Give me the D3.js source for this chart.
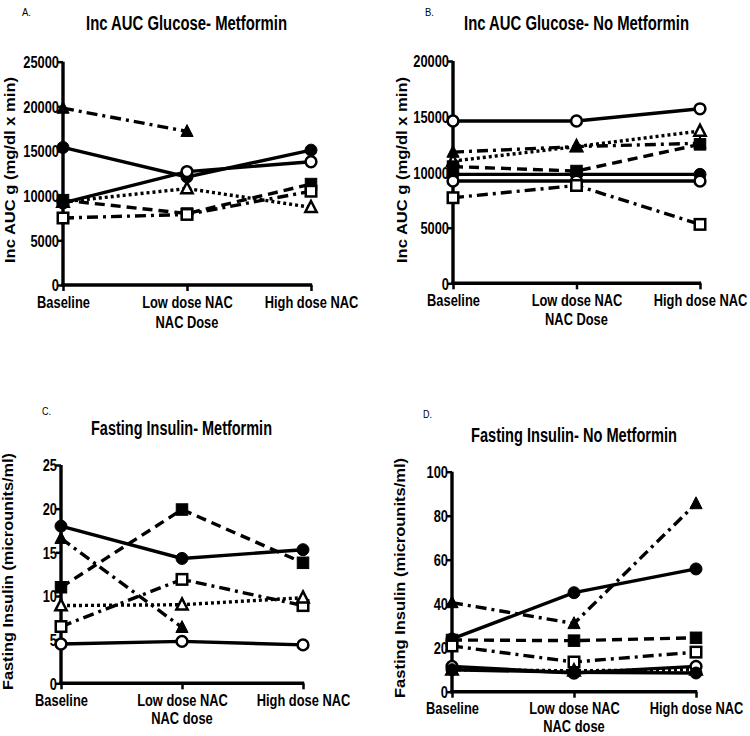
<!DOCTYPE html>
<html><head><meta charset="utf-8">
<script src="https://cdn.jsdelivr.net/npm/d3@7"></script>
<style>
body{margin:0;background:#fff;}
svg{display:block;}
</style>
</head><body>
<svg id="chart" width="750" height="736"></svg>
<script>
// ---- data ----
const categories = ["Baseline", "Low dose NAC", "High dose NAC"];

const ticksA = [0, 5000, 10000, 15000, 20000, 25000];
const ticksB = [0, 5000, 10000, 15000, 20000];
const ticksC = [0, 5, 10, 15, 20, 25];
const ticksD = [0, 20, 40, 60, 80, 100];

// line styles and markers for each series
const stylesA = ["dashdot", "solid", "solid", "dotted", "dashed", "dashdot"];
const markersA = ["triFilled", "circFilled", "circOpen", "triOpen", "sqFilled", "sqOpen"];
const valuesA = [
  [19800, 17200, null],
  [15400, 12100, 15100],
  [9200, 12700, 13800],
  [9300, 10800, 8700],
  [9500, 8000, 11300],
  [7500, 7900, 10500]
];

const stylesB = ["solid", "dotted", "dashdot", "dashed", "solid", "solid", "dashdot"];
const markersB = ["circOpen", "triOpen", "triFilled", "sqFilled", "circFilled", "circOpen", "sqOpen"];
const valuesB = [
  [14600, 14600, 15700],
  [11000, 12300, 13700],
  [11800, 12300, 12600],
  [10500, 10100, 12500],
  [9800, 9800, 9800],
  [9200, 9200, 9200],
  [7700, 8800, 5300]
];

const stylesC = ["solid", "dashed", "dashdot", "dashdot", "dotted", "solid"];
const markersC = ["circFilled", "sqFilled", "triFilled", "sqOpen", "triOpen", "circOpen"];
const valuesC = [
  [18.0, 14.3, 15.3],
  [11.0, 19.9, 13.8],
  [16.6, 6.4, null],
  [6.5, 11.9, 8.9],
  [8.9, 9.0, 9.8],
  [4.5, 4.8, 4.4]
];

const stylesD = ["dashdot", "solid", "dashed", "dashdot", "dotted", "solid", "solid"];
const markersD = ["triFilled", "circFilled", "sqFilled", "sqOpen", "triOpen", "circOpen", "circFilled"];
const valuesD = [
  [40.5, 31, 85.5],
  [24, 45, 55.8],
  [23.5, 23.2, 24.5],
  [20.8, 13.5, 18],
  [10, 9.5, 10],
  [11.5, 8.5, 11.5],
  [10, 8.8, 8.5]
];

// ---- drawing ----
const svg = d3.select("#chart");
const FONT = '"Liberation Sans",Arial,sans-serif';
const SX = 0.78; // horizontal squeeze imitating a narrow face

const dashes = {solid: null, dashed: "10,6", dashdot: "11,5,3,5", dotted: "3,3"};

function squeeze(sel) {
  sel.each(function () {
    const t = d3.select(this);
    const x = +t.attr("x") || 0;
    t.attr("transform", `translate(${x},0) scale(${SX},1) translate(${-x},0)`);
  });
}

function drawPanel(cfg) {
  const g = svg.append("g");
  const x = d3.scalePoint().domain(categories).range([cfg.x0, cfg.x1]).padding(0);
  const y = d3.scaleLinear().domain([0, cfg.max]).range([cfg.y0, cfg.yTop]);

  // letter
  g.append("text").attr("x", cfg.letterX).attr("y", cfg.letterY)
    .attr("font-family", FONT).attr("font-size", 11).attr("textLength", 9)
    .attr("lengthAdjust", "spacingAndGlyphs").text(cfg.letter);
  // title
  g.append("text").attr("x", cfg.titleX - cfg.titleW / 2).attr("y", cfg.titleY)
    .attr("font-family", FONT).attr("font-weight", "bold").attr("font-size", 19.5)
    .attr("textLength", cfg.titleW).attr("lengthAdjust", "spacingAndGlyphs").text(cfg.title);

  // y axis
  const ya = g.append("g").attr("transform", `translate(${cfg.x0},0)`)
    .call(d3.axisLeft(y).tickValues(cfg.ticks).tickSize(5).tickPadding(-1).tickFormat(d3.format("d")));
  ya.select(".domain").attr("stroke-width", 3.4).attr("d", `M0,${cfg.y0 + 1.5}V${cfg.yTop}`);
  ya.selectAll(".tick line").attr("stroke-width", 2.5);
  ya.selectAll(".tick text").attr("font-family", FONT).attr("font-weight", "bold")
    .attr("font-size", 16.5).attr("fill", "#000").attr("dy", "0.36em").call(squeeze);

  // x axis
  const xa = g.append("g").attr("transform", `translate(0,${cfg.y0})`)
    .call(d3.axisBottom(x).tickSize(6).tickPadding(5));
  xa.select(".domain").attr("stroke-width", 3.4).attr("d", `M${cfg.x0 - 1.7},0H${cfg.x1 + 1.2}`);
  xa.selectAll(".tick line").attr("stroke-width", 2.5);
  xa.selectAll(".tick text").attr("font-family", FONT).attr("font-weight", "bold")
    .attr("font-size", 16.5).attr("fill", "#000").call(squeeze);

  // x axis title
  g.append("text").attr("x", x(categories[1])).attr("y", cfg.y0 + cfg.xTitleDy).attr("text-anchor", "middle")
    .attr("font-family", FONT).attr("font-weight", "bold").attr("font-size", 16.5).call(squeeze)
    .text(cfg.xTitle);
  // y axis title
  g.append("text").attr("transform", `translate(${cfg.yTitleX},${cfg.yTitleY + cfg.yTitleW / 2}) rotate(-90)`)
    .attr("font-family", FONT).attr("font-weight", "bold")
    .attr("font-size", 14).attr("textLength", cfg.yTitleW).attr("lengthAdjust", "spacingAndGlyphs")
    .text(cfg.yTitle);

  const line = d3.line().defined(d => d.v != null).x(d => x(d.c)).y(d => y(d.v));

  cfg.values.forEach((vals, i) => {
    const pts = vals.map((v, j) => ({c: categories[j], v}));
    g.append("path").datum(pts).attr("d", line).attr("fill", "none").attr("stroke", "#000")
      .attr("stroke-width", 3.4).attr("stroke-dasharray", dashes[cfg.styles[i]]);
  });
  cfg.values.forEach((vals, i) => {
    const m = cfg.markers[i];
    vals.forEach((v, j) => {
      if (v == null) return;
      const cx = x(categories[j]), cy = y(v);
      const filled = m.endsWith("Filled");
      let sel;
      if (m.startsWith("circ")) {
        sel = g.append("circle").attr("cx", cx).attr("cy", cy).attr("r", filled ? 6 : 5.4);
      } else if (m.startsWith("sq")) {
        const s = filled ? 11.5 : 10.5;
        sel = g.append("rect").attr("x", cx - s / 2).attr("y", cy - s / 2).attr("width", s).attr("height", s);
      } else {
        const s = filled ? 6.8 : 6.3;
        sel = g.append("path").attr("d", `M${cx},${cy - s}L${cx + s * 0.9},${cy + s * 0.75}L${cx - s * 0.9},${cy + s * 0.75}Z`);
      }
      sel.attr("fill", filled ? "#000" : "#fff").attr("stroke", "#000").attr("stroke-width", filled ? 1 : 2.5);
    });
  });
}

drawPanel({letter: "A.", letterX: 22, letterY: 16, title: "Inc AUC Glucose- Metformin", titleX: 186.5, titleW: 201, titleY: 29.5,
  x0: 63, x1: 311, y0: 285, yTop: 61.7, max: 25000, ticks: ticksA,
  xTitle: "NAC Dose", xTitleDy: 43, yTitle: "Inc AUC g (mg/dl x min)", yTitleX: 15, yTitleY: 170, yTitleW: 186,
  values: valuesA, styles: stylesA, markers: markersA});

drawPanel({letter: "B.", letterX: 425, letterY: 16, title: "Inc AUC Glucose- No Metformin", titleX: 576.5, titleW: 225, titleY: 29.5,
  x0: 453, x1: 700, y0: 283.3, yTop: 61, max: 20000, ticks: ticksB,
  xTitle: "NAC Dose", xTitleDy: 42, yTitle: "Inc AUC g (mg/dl x min)", yTitleX: 407, yTitleY: 170, yTitleW: 186,
  values: valuesB, styles: stylesB, markers: markersB});

drawPanel({letter: "C.", letterX: 42, letterY: 415, title: "Fasting Insulin- Metformin", titleX: 181.5, titleW: 181, titleY: 435,
  x0: 61, x1: 303, y0: 683.3, yTop: 465, max: 25, ticks: ticksC,
  xTitle: "NAC dose", xTitleDy: 41, yTitle: "Fasting Insulin (microunits/ml)", yTitleX: 13, yTitleY: 571.5, yTitleW: 237,
  values: valuesC, styles: stylesC, markers: markersC});

drawPanel({letter: "D.", letterX: 423, letterY: 418, title: "Fasting Insulin- No Metformin", titleX: 574, titleW: 206, titleY: 441.5,
  x0: 452, x1: 696, y0: 691.7, yTop: 471.7, max: 100, ticks: ticksD,
  xTitle: "NAC dose", xTitleDy: 40, yTitle: "Fasting Insulin (microunits/ml)", yTitleX: 405, yTitleY: 578, yTitleW: 240,
  values: valuesD, styles: stylesD, markers: markersD});
</script>
</body></html>
